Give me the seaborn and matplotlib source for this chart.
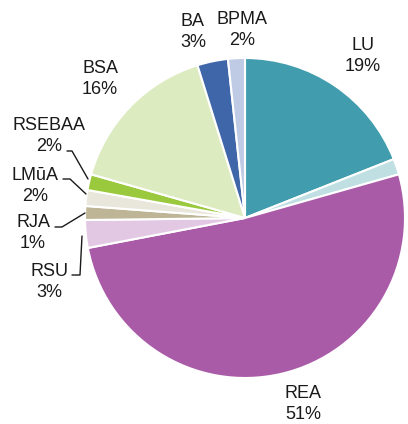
import matplotlib
matplotlib.use("Agg")
import matplotlib.pyplot as plt
import seaborn as sns

# Data (clockwise from 12 o'clock)
categories = ["LU", "", "REA", "RSU", "RJA", "LMūA", "RSEBAA", "BSA", "BA", "BPMA"]
shares = [19.0, 1.6, 51.4, 2.8, 1.4, 1.6, 1.6, 15.8, 3.1, 1.7]
colors = ["#419DAE", "#C0DFE3", "#A95BA8", "#E3C8E3", "#BDB595",
          "#E9E7DC", "#9BC93E", "#DDEBC1", "#3E66A8", "#BFCBE4"]

sns.set_theme(style="white")
plt.rcParams["font.family"] = ["Liberation Sans", "DejaVu Sans"]

W, H = 408, 424
fig = plt.figure(figsize=(W / 100, H / 100), dpi=100)
ax = fig.add_axes([0, 0, 1, 1])

cx, cy, r = 245, H - 218, 160
ax.pie(shares, colors=colors, startangle=90, counterclock=False,
       center=(cx, cy), radius=r, frame=True,
       wedgeprops=dict(edgecolor="white", linewidth=1.5))
ax.set_xlim(0, W)
ax.set_ylim(0, H)
ax.set_aspect("equal")
ax.axis("off")

total = sum(shares)
label_pos = {
    "LU": (363, 56), "REA": (303, 404), "RSU": (49, 282), "RJA": (33, 233),
    "LMūA": (35, 186), "RSEBAA": (49, 136), "BSA": (100, 79),
    "BA": (193, 32), "BPMA": (242, 30),
}
for name, val in zip(categories, shares):
    if not name:
        continue
    x, y = label_pos[name]
    ax.text(x, H - y, f"{name}\n{round(val / total * 100):.0f}%",
            ha="center", va="center", fontsize=13, linespacing=1.3,
            color="#1a1a1a")

leaders = [
    [(67, 151), (72, 151), (88, 179)],   # RSEBAA
    [(63, 179), (70, 179), (86, 194)],   # LMūA
    [(55, 227), (62, 227), (85, 213)],   # RJA
    [(72, 275), (80, 275), (82, 236)],   # RSU
]
for pts in leaders:
    xs = [p[0] for p in pts]
    ys = [H - p[1] for p in pts]
    ax.plot(xs, ys, color="#1a1a1a", lw=1.0)

fig.savefig("out.png", dpi=100)
